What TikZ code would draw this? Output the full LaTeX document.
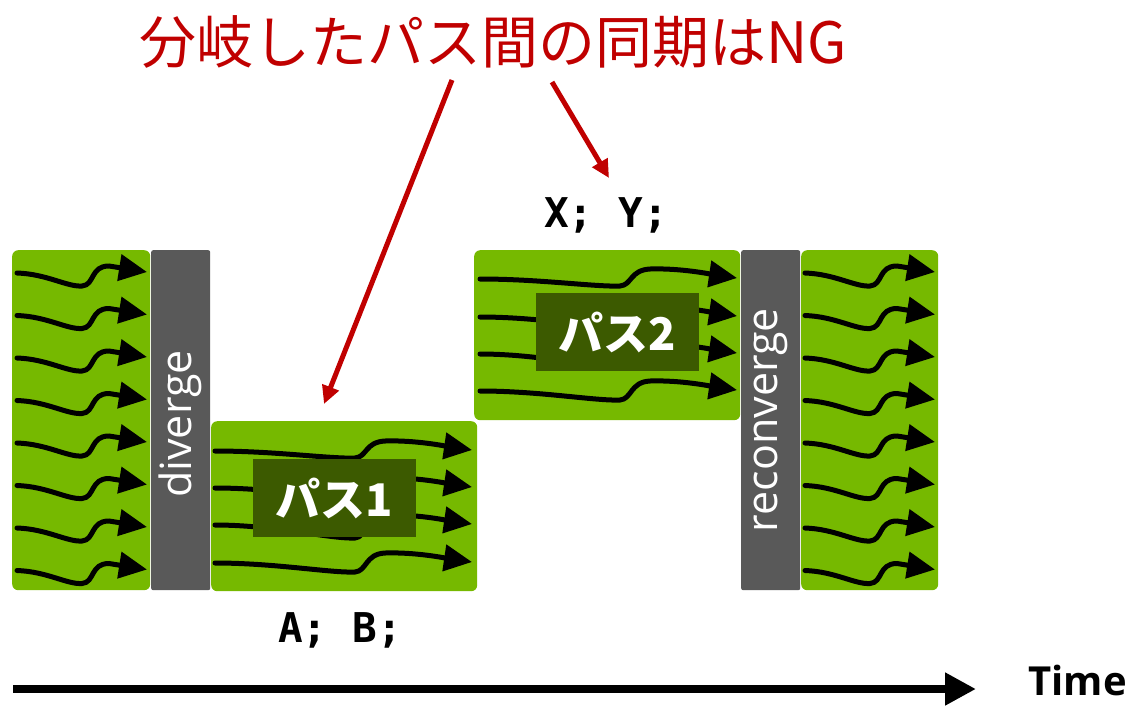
\documentclass[tikz,border=0pt]{standalone}
\usepackage{fontspec}
\setmainfont{Open Sans}
\newfontfamily\jp{Noto Sans CJK JP}
\newfontfamily\monof{DejaVu Sans Mono}
\usetikzlibrary{arrows.meta}
\definecolor{ngreen}{HTML}{76B900}
\definecolor{dgreen}{HTML}{3C5A00}
\definecolor{bargray}{HTML}{595959}
\definecolor{ngred}{HTML}{C00000}
\tikzset{
  gblock/.style={fill=ngreen, draw=none, rounded corners=6pt, inner sep=0pt, anchor=north west},
  gbar/.style={fill=bargray, draw=none, rounded corners=2pt, inner sep=0pt, anchor=north west},
  bartext/.style={rotate=90, text=white, font=\fontsize{43}{43}\selectfont},
  plabel/.style={fill=dgreen, inner sep=0pt, minimum width=163pt, minimum height=78pt, text=white, font=\jp\bfseries\fontsize{45}{45}\selectfont},
  wave/.style={line width=5pt, -{Triangle[length=28pt,width=26pt]}, line cap=round},
  redarrow/.style={draw=ngred, line width=5pt, -{Triangle[length=18pt,width=17pt]}},
  codetext/.style={font=\monof\bfseries\fontsize{41}{41}\selectfont},
}
\newcommand\shortwave[2]{%
  \draw[wave] (#1,#2+1) .. controls (#1+30,#2+2) and (#1+50,#2+15) .. (#1+65,#2+14)
    .. controls (#1+78,#2+13) and (#1+73,#2-6) .. (#1+92,#2-6) -- (#1+130,#2);}
\newcommand\longwave[3]{%
  \draw[wave] (#1,#2+1) .. controls (#1+60,#2+1) and (#1+115,#2+#3+1) .. (#1+140,#2+#3)
    .. controls (#1+152,#2+#3-1) and (#1+150,#2-8) .. (#1+170,#2-9)
    .. controls (#1+200,#2-10) and (#1+230,#2-4) .. (#1+257,#2);}
\begin{document}
\begin{tikzpicture}[x=1pt,y=-1pt]
\useasboundingbox (0,0) rectangle (1135,705);
% blocks
\node[gblock, minimum width=138pt, minimum height=340pt] (pre) at (12,250) {};
\node[gbar, minimum width=59pt, minimum height=340pt] (div) at (151,250) {};
\node[bartext] (divt) at (180,424) {diverge};
\node[gblock, minimum width=266pt, minimum height=170pt] (p1) at (211,421) {};
\node[gblock, minimum width=266pt, minimum height=170pt] (p2) at (474,250) {};
\node[gbar, minimum width=59pt, minimum height=340pt] (rec) at (741,250) {};
\node[bartext] (rect) at (771,420) {reconverge};
\node[gblock, minimum width=137pt, minimum height=340pt] (post) at (801,250) {};
% waves
\foreach \yy in {272,314.5,357,399.5,442,484.5,527,569.5} {
  \shortwave{17}{\yy}
  \shortwave{805}{\yy}
}
\longwave{215}{450}{8}
\longwave{215}{487}{11}
\longwave{215}{524}{14}
\longwave{215}{562}{10}
\longwave{480}{278}{8}
\longwave{480}{316}{11}
\longwave{480}{353}{14}
\longwave{480}{390}{10}
% labels
\node[plabel] (l1) at (334.5,498) {パス1};
\node[plabel] (l2) at (617.5,332) {パス2};
% code texts
\node[codetext] (ab) at (340,630) {A; B;};
\node[codetext] (xy) at (606,215) {X; Y;};
% title
\node[text=ngred, font=\jp\fontsize{57}{57}\selectfont] (title) at (493,42) {分岐したパス間の同期はNG};
\coordinate (r1s) at (452,80);
\coordinate (r1e) at (324,404);
\coordinate (r2s) at (552,82);
\coordinate (r2e) at (609,178);
\draw[redarrow] (r1s) -- (r1e);
\draw[redarrow] (r2s) -- (r2e);
% time axis
\coordinate (t0) at (13,689);
\coordinate (t1) at (976,689);
\draw[line width=8pt, -{Triangle[length=31pt,width=31pt]}] (t0) -- (t1);
\node[font=\bfseries\fontsize{40}{40}\selectfont, anchor=east, inner sep=0pt] (time) at (1127,680) {Time};
\end{tikzpicture}
\end{document}
